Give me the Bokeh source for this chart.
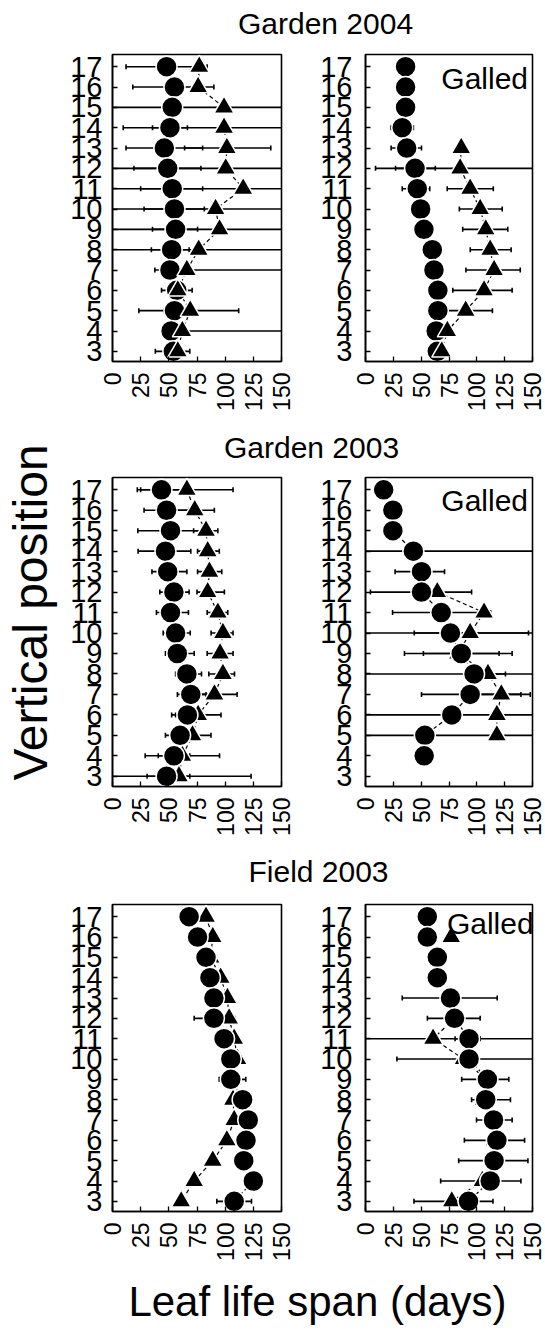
import math
from bokeh.plotting import figure
from bokeh.layouts import row, column
from bokeh.models import ColumnDataSource, FixedTicker, Label
from bokeh.embed import file_html
from bokeh.resources import INLINE
from bokeh.core.properties import value

# ---------------- data (rows listed from position 17 down to 3) ----------------
positions = [17, 16, 15, 14, 13, 12, 11, 10, 9, 8, 7, 6, 5, 4, 3]
y_ticks = list(range(3, 18))
x_ticks = [0, 25, 50, 75, 100, 125, 150]

row_titles = ["Garden 2004", "Garden 2003", "Field 2003"]
galled_text = "Galled"
y_title = "Vertical position"
x_title = "Leaf life span (days)"

N = None
# Garden 2004 - left panel
g04_left_circle    = [48, 55, 53, 51, 46, 49, 53, 55, 56, 52.5, 51, 57, 55, 52, 54]
g04_left_circle_lo = [12, 18, N, 35.5, 12, 19, 25, 28, 35.5, 34.5, 37.6, N, 46, 44, 38]
g04_left_circle_hi = [84, 90, N, 66.5, 80, 78.5, 80, 81.5, 75.5, 68, 64, N, 64, 60, 68.6]
g04_left_tri       = [77, 76, 99, 99, 101.5, 100.5, 116, 91.5, 95, 76.5, 66, 58, 69, 62, 58]
g04_left_tri_lo    = [N, N, -20, 9.5, 64, -20, -20, -20, -20, -20, 60, 43.5, 23.4, 55, N]
g04_left_tri_hi    = [N, N, 220, 189, 140.5, 220, 220, 220, 220, 220, 200, 70.7, 112, 200, N]

# Garden 2004 - galled panel
g04_gall_circle    = [36, 36, 36, 33, 37, 44.5, 46.5, 49.5, 52.5, 60, 61.5, 65, 65, 63.5, 64.5]
g04_gall_circle_lo = [N, N, N, 23, 23, 27, 33, N, N, N, N, N, N, N, N]
g04_gall_circle_hi = [N, N, N, 43, 50.3, 62.7, 57.7, N, N, N, N, N, N, N, N]
g04_gall_tri       = [N, N, N, N, 86, 85, 94, 103, 108, 112, 115.5, 106.5, 90, 73.5, 68.5]
g04_gall_tri_lo    = [N, N, N, N, N, 9, 73.4, 84.3, 87.3, 94.1, 90.2, 78.4, 74, N, N]
g04_gall_tri_hi    = [N, N, N, N, N, 161, 114.8, 122.8, 127.8, 130.8, 139, 131.7, 114, N, N]

# Garden 2003 - left panel
g03_left_circle    = [43.5, 48, 51.5, 47, 49, 54.5, 51.5, 56, 57.5, 66, 69.5, 66.5, 60, 54.5, 48]
g03_left_circle_lo = [22, 28, 22.5, 22.7, 35, 42, 39, 45, 47, 56, 57.6, 52.5, 47, 40.6, 30.7]
g03_left_circle_hi = [65, 68, 80.8, 69.5, 66, 68, 67.4, 69, 72.5, 79, 83, 80.5, 75.5, 68.6, 68.6]
g03_left_tri       = [66, 73, 83, 84.5, 86, 84.5, 93.5, 98, 95.5, 98, 90.5, 76, 71, 62, 59]
g03_left_tri_lo    = [25, 56, 72, 75.5, 75.5, 75, 84, 87.5, 84, 85.5, 70, 56, 55, 29, -5]
g03_left_tri_hi    = [107, 90.4, 93.5, 94.8, 97, 99.3, 102.3, 107, 107, 108.3, 110.6, 96.3, 87.4, 95, 123]

# Garden 2003 - galled panel
g03_gall_circle    = [16.3, 24.6, 24.6, 43, 50.3, 50.3, 68, 76.3, 86, 97.5, 94, 77.5, 53.3, 52.7, N]
g03_gall_circle_lo = [N, N, N, -20, 26.6, 4.4, 24.3, -20, 52, -20, 50.3, -20, -20, N, N]
g03_gall_circle_hi = [N, N, N, 220, 71, 95.3, 112.4, 220, 120, 220, 139.6, 220, 220, N, N]
g03_gall_tri       = [N, N, N, N, N, 64.5, 106.5, 94, 83, 110, 122, 118, 118, N, N]
g03_gall_tri_lo    = [N, N, N, N, N, N, N, 43.8, 35, 94.3, 96, N, N, N, N]
g03_gall_tri_hi    = [N, N, N, N, N, N, N, 146.4, 131.7, 125.7, 148, N, N, N, N]

# Field 2003 - left panel
f03_left_circle    = [68, 75.5, 83, 86.5, 90, 90, 99, 105, 105, 115.5, 120.5, 118.5, 116.5, 125, 108]
f03_left_circle_lo = [N, N, N, N, N, 72.5, N, N, 94.7, N, N, N, N, N, 92.6]
f03_left_circle_hi = [N, N, N, N, N, 108.6, N, N, 118.3, N, N, N, N, N, 123.4]
f03_left_tri       = [83, 89, 87, 96, 102, 103.5, 108, 111, 106, 107, 108, 101.5, 89, 72.5, 61]
f03_left_tri_lo    = [N] * 15
f03_left_tri_hi    = [N] * 15

# Field 2003 - galled panel
f03_gall_circle    = [55.5, 55.5, 64.5, 64.5, 76.3, 80, 93, 93, 109.5, 108, 115, 118, 115.5, 112, 92.5]
f03_gall_circle_lo = [N, N, N, N, 33, 55.6, 80.5, 28.2, 86.4, 95.3, 99.7, 88.8, 83.7, 67.5, 43.5]
f03_gall_circle_hi = [N, N, N, N, 118.3, 103, 103, 158, 128.7, 130.2, 131.7, 142.9, 145.9, 139.6, 114.5]
f03_gall_tri       = [N, 77, N, N, N, 80, 60.7, 88, 108, 106, 114, 116, 114, 105, 77.5]
f03_gall_tri_lo    = [N, N, N, N, N, N, -30, N, N, N, N, N, N, N, N]
f03_gall_tri_hi    = [N, N, N, N, N, N, 160, N, N, N, N, N, N, N, N]

FONT = "Liberation Sans"
X_RANGE = (0, 150)
Y_RANGE = (2.5, 17.6)


def nan(v):
    return float("nan") if v is None else v


def add_bars(p, xs_lo, xs_hi):
    seg = dict(x0=[], x1=[], y=[])
    caps = dict(x=[], y=[])
    for lo, hi, y in zip(xs_lo, xs_hi, positions):
        if lo is None or hi is None:
            continue
        seg["x0"].append(lo)
        seg["x1"].append(hi)
        seg["y"].append(y)
        for e in (lo, hi):
            if X_RANGE[0] <= e <= X_RANGE[1]:
                caps["x"].append(e)
                caps["y"].append(y)
    p.segment(x0="x0", y0="y", x1="x1", y1="y", source=ColumnDataSource(seg),
              line_color="black", line_width=1.6)
    p.scatter(x="x", y="y", source=ColumnDataSource(caps), marker="dash",
              angle=math.pi / 2, size=5, line_color="black", line_width=1.6)


def panel(circ, c_lo, c_hi, tri, t_lo, t_hi, border_left, frame_w, border_right,
          top, frame_h, bottom, y_standoff, tri_on_top, galled=None):
    w = border_left + frame_w + border_right
    h = top + frame_h + bottom
    p = figure(width=w, height=h, x_range=X_RANGE, y_range=Y_RANGE,
               output_backend="svg", toolbar_location=None,
               min_border_left=border_left, min_border_right=border_right,
               min_border_top=top, min_border_bottom=bottom)
    p.xgrid.visible = False
    p.ygrid.visible = False
    p.outline_line_color = "black"
    p.outline_line_width = 1.6
    p.background_fill_color = "white"
    p.border_fill_color = "white"

    p.yaxis.ticker = FixedTicker(ticks=y_ticks)
    p.xaxis.ticker = FixedTicker(ticks=x_ticks)
    for ax in (p.xaxis[0], p.yaxis[0]):
        ax.axis_line_color = "black"
        ax.axis_line_width = 1.6
        ax.major_tick_in = 5
        ax.major_tick_out = 0
        ax.major_tick_line_width = 1.3
        ax.minor_tick_in = 0
        ax.minor_tick_out = 0
        ax.major_label_text_font = FONT
        ax.major_label_text_color = "black"
    p.yaxis.major_label_text_font_size = "29px"
    p.yaxis.major_label_standoff = y_standoff
    p.xaxis.major_label_text_font_size = "23px"
    p.xaxis.major_label_orientation = math.pi / 2
    p.xaxis.major_label_standoff = 11

    add_bars(p, c_lo, c_hi)
    add_bars(p, t_lo, t_hi)

    cx = [nan(v) for v in circ]
    tx = [nan(v) for v in tri]
    p.line(cx, positions, line_color="black", line_width=1.2, line_dash="4 3")
    p.line(tx, positions, line_color="black", line_width=1.2, line_dash="4 3")

    def draw_circles():
        p.scatter(cx, positions, marker="circle", size=21, fill_color="black",
                  line_color="white", line_width=1.5)

    def draw_tris():
        p.scatter(tx, positions, marker="triangle", size=20, fill_color="black",
                  line_color="white", line_width=1.5)

    if tri_on_top:
        draw_circles()
        draw_tris()
    else:
        draw_tris()
        draw_circles()

    if galled is not None:
        gx, gy = galled
        p.add_layout(Label(x=gx, y=gy, text=galled_text, text_align="right",
                           text_baseline="middle", text_font=FONT,
                           text_font_size="30px", text_color="black"))
    return p


def strip(w, h, text, x, y, size, angle=0.0):
    p = figure(width=w, height=h, x_range=(0, w), y_range=(0, h),
               output_backend="svg", toolbar_location=None,
               x_axis_location=None, y_axis_location=None,
               min_border=0)
    p.grid.visible = False
    p.outline_line_color = None
    p.text(x=[x], y=[y], text=[text], text_font=value(FONT),
           text_font_size=size, angle=angle, text_align="center",
           text_baseline="middle", text_color="black")
    return p


LEFT_W = 58
LW, LF, LR = 54, 169, 14     # left panels: border, frame, border
RW, RF, RR = 70, 167, 13     # right panels: border, frame, border

pA = panel(g04_left_circle, g04_left_circle_lo, g04_left_circle_hi,
           g04_left_tri, g04_left_tri_lo, g04_left_tri_hi,
           LW, LF, LR, 14, 307, 69, 10, True)
pB = panel(g04_gall_circle, g04_gall_circle_lo, g04_gall_circle_hi,
           g04_gall_tri, g04_gall_tri_lo, g04_gall_tri_hi,
           RW, RF, RR, 14, 307, 69, 13, True, galled=(146, 16.44))
pC = panel(g03_left_circle, g03_left_circle_lo, g03_left_circle_hi,
           g03_left_tri, g03_left_tri_lo, g03_left_tri_hi,
           LW, LF, LR, 14, 309, 64, 10, False)
pD = panel(g03_gall_circle, g03_gall_circle_lo, g03_gall_circle_hi,
           g03_gall_tri, g03_gall_tri_lo, g03_gall_tri_hi,
           RW, RF, RR, 14, 309, 64, 13, False, galled=(146, 16.49))
pE = panel(f03_left_circle, f03_left_circle_lo, f03_left_circle_hi,
           f03_left_tri, f03_left_tri_lo, f03_left_tri_hi,
           LW, LF, LR, 14, 307, 59, 10, False)
pF = panel(f03_gall_circle, f03_gall_circle_lo, f03_gall_circle_hi,
           f03_gall_tri, f03_gall_tri_lo, f03_gall_tri_hi,
           RW, RF, RR, 14, 307, 59, 13, False, galled=(151, 16.69))

SW = 545 - LEFT_W
s1 = strip(SW, 40, row_titles[0], 325 - LEFT_W, 17, "30px")
s2 = strip(SW, 33, row_titles[1], 311 - LEFT_W, 16, "30px")
s3 = strip(SW, 40, row_titles[2], 318 - LEFT_W, 19, "30px")
s4 = strip(SW, 63, x_title, 317 - LEFT_W, 32, "42px")

left = strip(LEFT_W, 1333, y_title, 30, 1333 - 612, "48px", angle=math.pi / 2)

layout = row(left, column(s1, row(pA, pB), s2, row(pC, pD), s3, row(pE, pF), s4))

open("out.html", "w").write(file_html(layout, INLINE))
